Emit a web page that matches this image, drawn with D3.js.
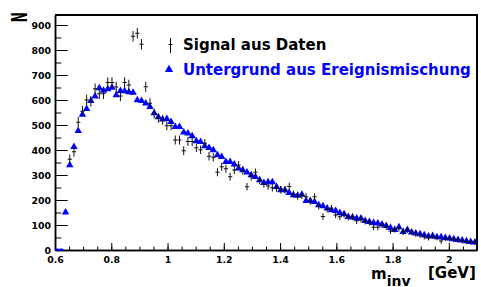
<!DOCTYPE html>
<html><head><meta charset="utf-8">
<script src="https://cdn.jsdelivr.net/npm/d3@7"></script>
<style>html,body{margin:0;padding:0;background:#fff;}svg{display:block;}</style>
</head><body>
<svg id="chart" width="481" height="287"></svg>
<script>
// ---- data ----
const binCenters = [0.6075,0.6225,0.6375,0.6525,0.6675,0.6825,0.6975,0.7125,0.7275,0.7425,
0.7575,0.7725,0.7875,0.8025,0.8175,0.8325,0.8475,0.8625,0.8775,0.8925,
0.9075,0.9225,0.9375,0.9525,0.9675,0.9825,0.9975,1.0125,1.0275,1.0425,
1.0575,1.0725,1.0875,1.1025,1.1175,1.1325,1.1475,1.1625,1.1775,1.1925,
1.2075,1.2225,1.2375,1.2525,1.2675,1.2825,1.2975,1.3125,1.3275,1.3425,
1.3575,1.3725,1.3875,1.4025,1.4175,1.4325,1.4475,1.4625,1.4775,1.4925,
1.5075,1.5225,1.5375,1.5525,1.5675,1.5825,1.5975,1.6125,1.6275,1.6425,
1.6575,1.6725,1.6875,1.7025,1.7175,1.7325,1.7475,1.7625,1.7775,1.7925,
1.8075,1.8225,1.8375,1.8525,1.8675,1.8825,1.8975,1.9125,1.9275,1.9425,
1.9575,1.9725,1.9875,2.0025,2.0175,2.0325,2.0475,2.0625,2.0775,2.0925];
const binWidth = 0.015;

// Untergrund aus Ereignismischung
const background = [0,0,151,340,413,477,542,565,597,615,
648,638,644,650,620,637,636,632,630,600,
597,587,573,548,532,523,525,513,493,493,
471,467,456,436,433,416,409,400,380,373,
353,353,343,327,320,311,300,293,280,269,
272,272,253,240,240,229,220,218,222,197,
197,193,180,176,167,160,157,149,144,133,
131,127,127,117,113,109,107,103,97,89,
81,92,73,81,71,67,64,60,55,57,
52,52,49,47,44,41,39,36,33,31];

// Signal aus Daten (null = empty bin)
const signal = [null,null,null,363,393,511,555,600,595,645,
625,625,670,670,652,616,670,660,855,867,
823,653,587,545,528,520,497,497,440,440,
397,434,434,409,401,427,375,371,311,333,
325,293,320,340,318,253,293,311,278,264,
256,249,248,241,240,254,224,215,218,213,
195,213,176,134,163,167,140,133,142,131,
133,117,123,114,110,91,91,100,93,76,
82,86,72,80,72,64,60,53,49,55,
50,36,47,45,42,40,37,34,32,30];

const signalErr = [null,null,null,19,20,21,21,21,21,21,
21,21,21,21,21,21,21,21,21,21,
21,20,20,19,19,19,18,18,18,18,
18,18,18,17,17,17,17,17,16,16,
16,16,16,16,16,15,15,15,15,15,
15,15,15,15,15,15,14,14,14,14,
14,14,14,13,13,13,13,13,13,13,
13,13,13,12,12,12,12,12,12,12,
12,12,12,12,12,11,11,11,11,11,
11,11,11,11,11,11,11,11,11,11];

const yTicks = [0,100,200,300,400,500,600,700,800,900];
const xTickLabels = ["0.6","0.8","1","1.2","1.4","1.6","1.8","2"];
const legendLabels = ["Signal aus Daten", "Untergrund aus Ereignismischung"];
const yTitle = "N";

// ---- layout ----
const svg = d3.select("#chart");
const L = 55, R = 477, T = 15, B = 250;
const font = "'DejaVu Sans', 'Liberation Sans', sans-serif";
const blue = "#0000ff";

const x = d3.scaleLinear().domain([0.6, 2.1]).range([L, R]);
const y = d3.scaleLinear().domain([0, 940]).range([B, T]);

svg.append("rect").attr("width",481).attr("height",287).attr("fill","#fff");

const defs = svg.append("defs");
defs.append("clipPath").attr("id","plotclip").append("rect")
  .attr("x",L).attr("y",T).attr("width",R-L).attr("height",B-T);
defs.append("clipPath").attr("id","zeroclip").append("rect")
  .attr("x",L).attr("y",B-1.5).attr("width",R-L).attr("height",2);

// ---- axes ----
const xMinor = d3.range(0.6, 2.1001, 0.05);
const yMinor = d3.range(0, 940, 50);

const gxMinor = svg.append("g").attr("transform",`translate(0,${B})`)
  .call(d3.axisBottom(x).tickValues(xMinor).tickSizeInner(-3.5).tickSizeOuter(0).tickFormat(""));
const gx = svg.append("g").attr("transform",`translate(0,${B})`)
  .call(d3.axisBottom(x).tickValues(xTickLabels.map(Number)).tickSizeInner(-7).tickSizeOuter(0).tickPadding(6.5)
    .tickFormat((d,i)=>xTickLabels[i]));
const gyMinor = svg.append("g").attr("transform",`translate(${L},0)`)
  .call(d3.axisLeft(y).tickValues(yMinor).tickSizeInner(-6.3).tickSizeOuter(0).tickFormat(""));
const gy = svg.append("g").attr("transform",`translate(${L},0)`)
  .call(d3.axisLeft(y).tickValues(yTicks).tickSizeInner(-12.7).tickSizeOuter(0).tickPadding(4)
    .tickFormat(d3.format("d")));

[gx, gy, gxMinor, gyMinor].forEach(g=>{
  g.select(".domain").attr("stroke","#000").attr("stroke-width",1.5);
  g.selectAll(".tick line").attr("stroke","#000").attr("stroke-width",1);
  g.selectAll("text").attr("fill","#000").style("font-family",font)
    .style("font-weight","bold").style("font-size","9.4px");
});

// frame top / right
svg.append("line").attr("x1",L).attr("x2",R+1).attr("y1",T).attr("y2",T)
  .attr("stroke","#000").attr("stroke-width",2);
svg.append("line").attr("x1",R).attr("x2",R).attr("y1",T).attr("y2",B)
  .attr("stroke","#000").attr("stroke-width",2);

// ---- background markers ----
const tri = d3.symbol().type(d3.symbolTriangle).size(24);
const bgData = binCenters.map((c,i)=>({c, v: background[i]}));
svg.append("g").attr("clip-path","url(#plotclip)")
  .selectAll("path").data(bgData.filter(d=>d.v>0)).join("path")
  .attr("d", tri).attr("fill", blue)
  .attr("transform", d=>`translate(${x(d.c)},${y(d.v)})`);
svg.append("g").attr("clip-path","url(#zeroclip)")
  .selectAll("path").data(bgData.filter(d=>d.v===0)).join("path")
  .attr("d", tri).attr("fill", blue)
  .attr("transform", d=>`translate(${x(d.c)},${y(d.v)})`);

// ---- signal points with error bars ----
const sigData = binCenters.map((c,i)=>({c, v: signal[i], e: signalErr[i]})).filter(d=>d.v!=null);
const gs = svg.append("g").attr("clip-path","url(#plotclip)").attr("stroke","#111").attr("stroke-width",1);
gs.selectAll("line.v").data(sigData).join("line").attr("class","v")
  .attr("x1", d=>x(d.c)).attr("x2", d=>x(d.c))
  .attr("y1", d=>y(d.v - d.e)).attr("y2", d=>y(d.v + d.e));
gs.selectAll("line.h").data(sigData).join("line").attr("class","h")
  .attr("x1", d=>x(d.c - binWidth/2)).attr("x2", d=>x(d.c + binWidth/2))
  .attr("y1", d=>y(d.v)).attr("y2", d=>y(d.v));

// ---- legend ----
const lg = svg.append("g");
lg.append("line").attr("x1",170.5).attr("x2",170.5).attr("y1",38).attr("y2",53)
  .attr("stroke","#000").attr("stroke-width",1);
lg.append("line").attr("x1",168.5).attr("x2",172.5).attr("y1",44.5).attr("y2",44.5)
  .attr("stroke","#000").attr("stroke-width",1);
lg.append("text").attr("x",183).attr("y",49.5).text(legendLabels[0])
  .attr("fill","#000").style("font-family",font).style("font-weight","bold").style("font-size","15px");
lg.append("path").attr("d", d3.symbol().type(d3.symbolTriangle).size(30))
  .attr("transform","translate(169,69.5)").attr("fill",blue);
lg.append("text").attr("x",183).attr("y",74.5).text(legendLabels[1])
  .attr("fill",blue).style("font-family",font).style("font-weight","bold").style("font-size","15px");

// ---- axis titles ----
svg.append("text").attr("transform","translate(26.5,12) rotate(-90) scale(0.55,1)")
  .attr("text-anchor","end").text(yTitle)
  .attr("fill","#000").style("font-family",font).style("font-weight","bold").style("font-size","22px");

const xt = svg.append("text").attr("x",371).attr("y",279).attr("fill","#000")
  .style("font-family",font).style("font-weight","bold").style("font-size","15px");
xt.append("tspan").text("m");
xt.append("tspan").attr("dy",7).style("font-size","14px").text("inv");
svg.append("text").attr("x",428).attr("y",278).attr("fill","#000")
  .style("font-family",font).style("font-weight","bold").style("font-size","15px").text("[GeV]");
</script>
</body></html>
